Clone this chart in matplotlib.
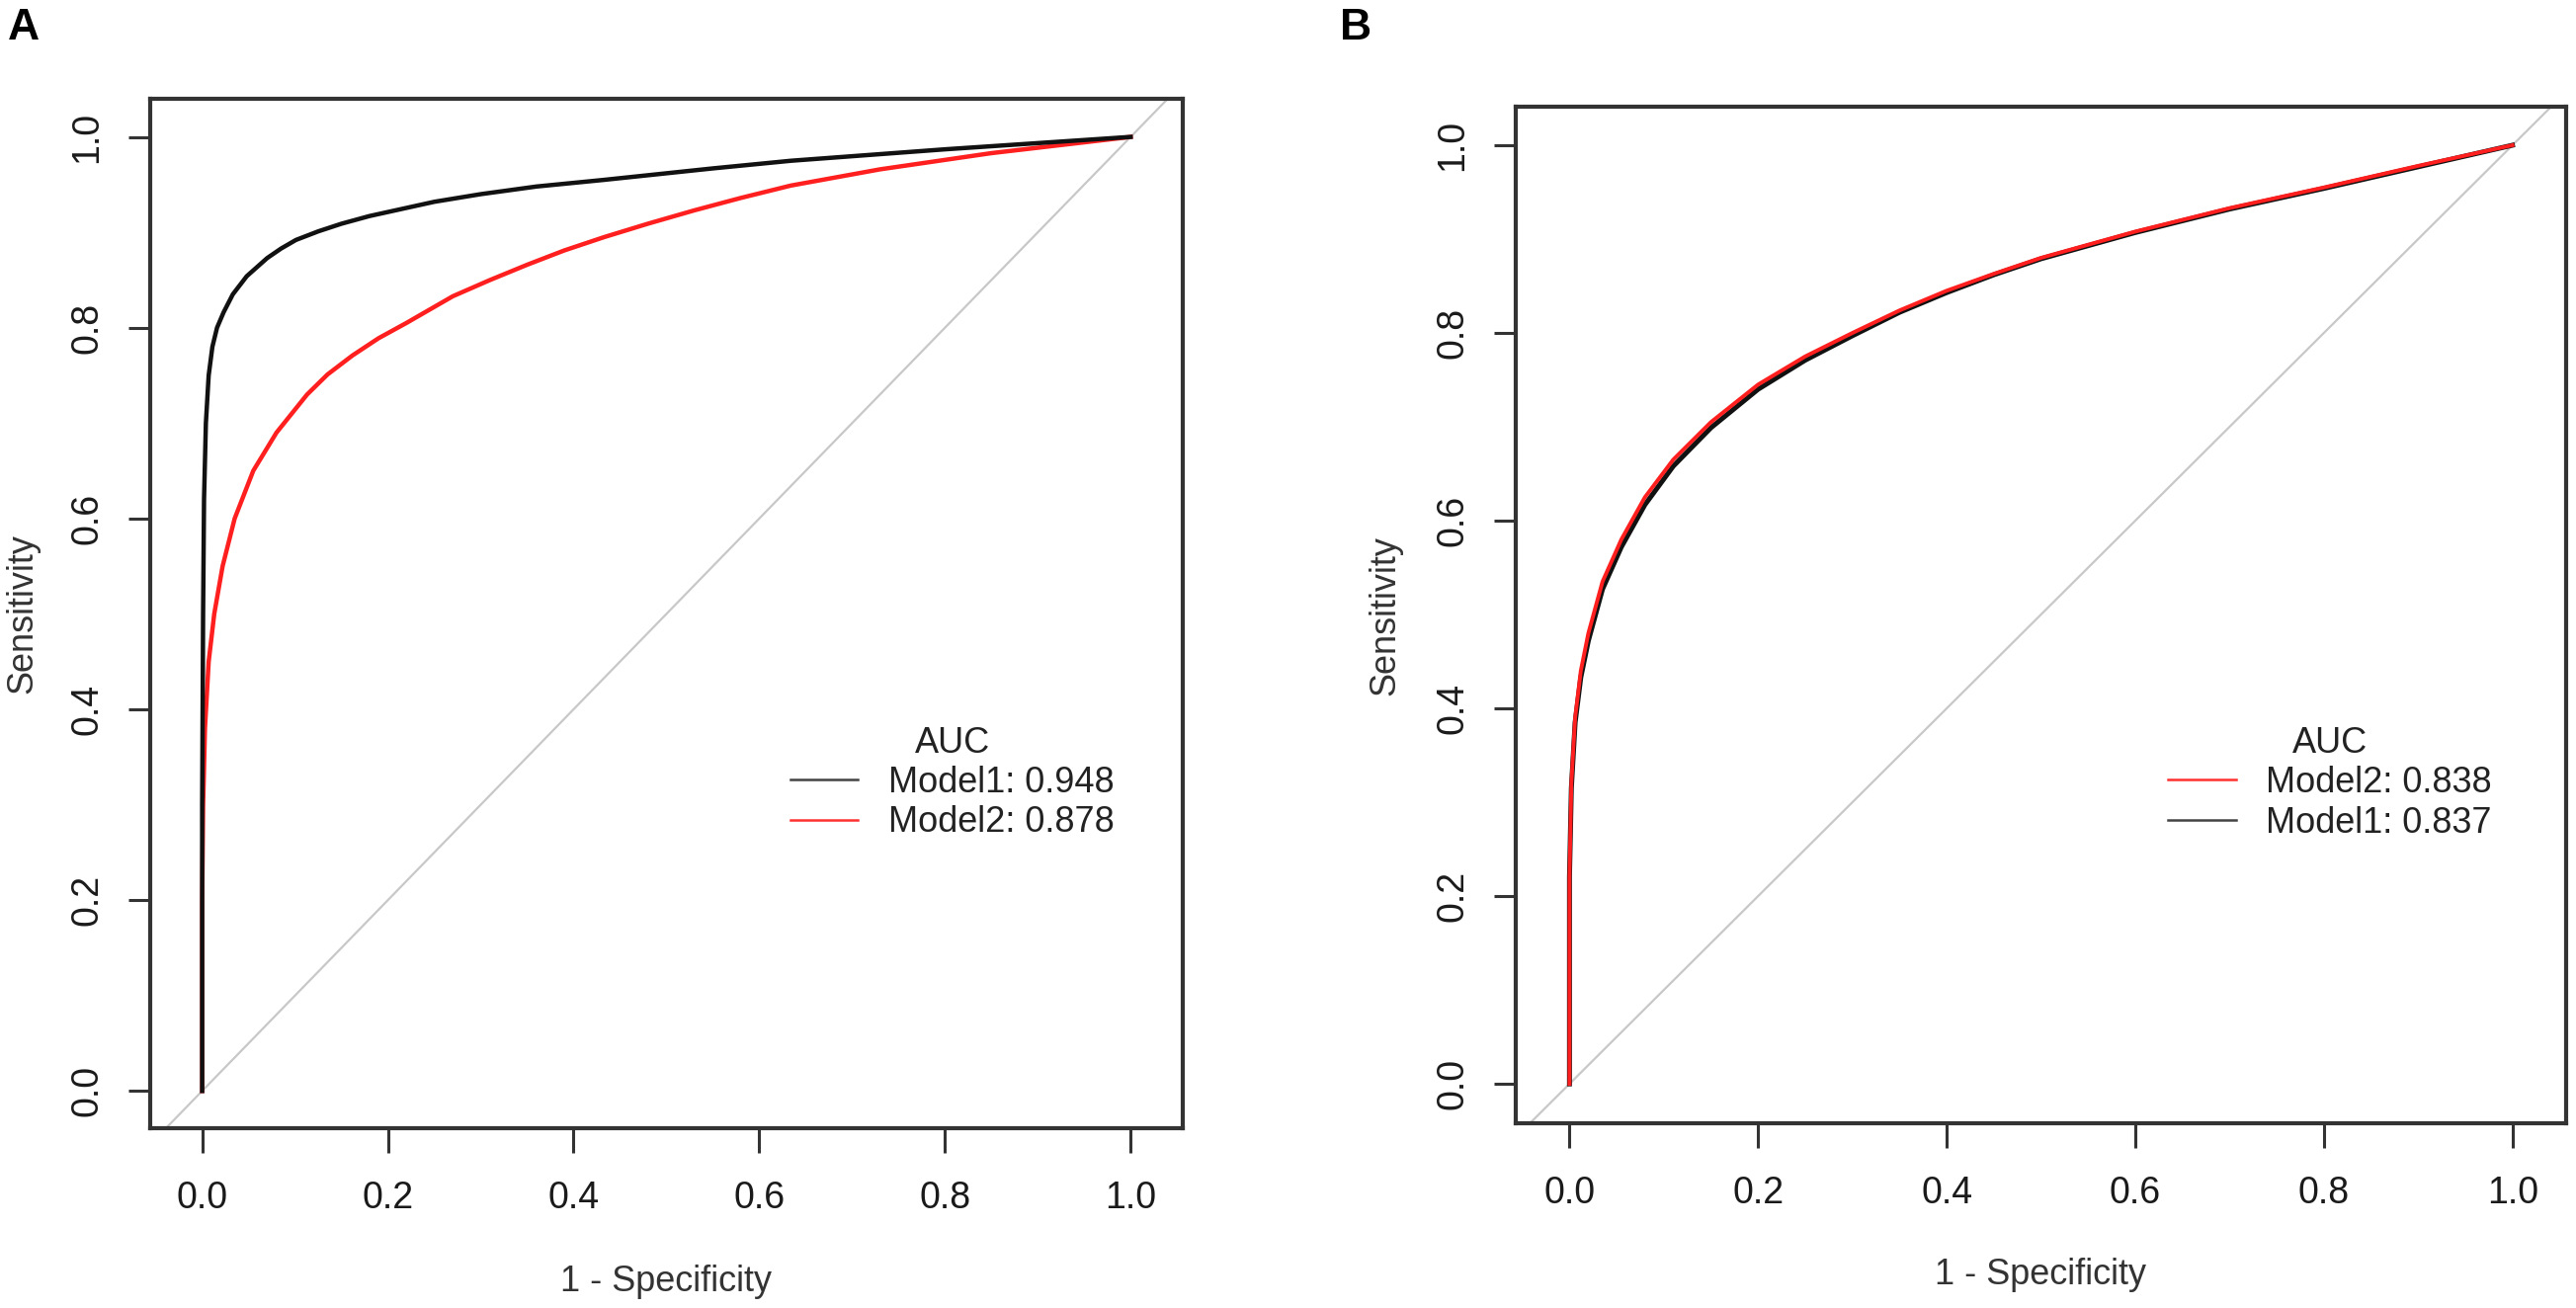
import numpy as np
import matplotlib
matplotlib.use("Agg")
import matplotlib.pyplot as plt

plt.rcParams['font.family'] = ['Liberation Sans', 'DejaVu Sans']

# panel A: ROC points (1 - specificity, sensitivity)
a_m1_fpr = [0, 0, 0.001, 0.002, 0.004, 0.007, 0.011, 0.016, 0.023, 0.033, 0.048, 0.07, 0.085, 0.101,
            0.125, 0.15, 0.18, 0.208, 0.25, 0.3, 0.36, 0.433, 0.55, 0.634, 0.8, 1.0]
a_m1_tpr = [0, 0.3, 0.5, 0.62, 0.7, 0.75, 0.78, 0.8, 0.816, 0.835, 0.854, 0.873, 0.883, 0.892,
            0.901, 0.909, 0.917, 0.923, 0.932, 0.94, 0.948, 0.955, 0.967, 0.975, 0.987, 1.0]
a_m2_fpr = [0, 0, 0.001, 0.003, 0.007, 0.013, 0.022, 0.035, 0.055, 0.08, 0.113, 0.135, 0.162, 0.19,
            0.22, 0.27, 0.31, 0.35, 0.39, 0.433, 0.48, 0.53, 0.58, 0.634, 0.73, 0.85, 1.0]
a_m2_tpr = [0, 0.2, 0.3, 0.38, 0.45, 0.5, 0.55, 0.6, 0.65, 0.69, 0.73, 0.751, 0.771, 0.789,
            0.805, 0.833, 0.85, 0.866, 0.881, 0.895, 0.909, 0.923, 0.936, 0.949, 0.966, 0.983, 1.0]

# panel B
b_m2_fpr = [0, 0, 0.002, 0.006, 0.012, 0.02, 0.035, 0.055, 0.08, 0.11, 0.15, 0.2, 0.25,
            0.3, 0.35, 0.4, 0.45, 0.5, 0.6, 0.7, 0.8, 0.9, 1.0]
b_m2_tpr = [0, 0.22, 0.32, 0.39, 0.44, 0.48, 0.535, 0.58, 0.625, 0.665, 0.705, 0.745, 0.775,
            0.80, 0.824, 0.845, 0.863, 0.88, 0.908, 0.933, 0.955, 0.978, 1.0]
b_m1_fpr = [0, 0, 0.002, 0.006, 0.012, 0.02, 0.035, 0.055, 0.08, 0.11, 0.15, 0.2, 0.25,
            0.3, 0.35, 0.4, 0.45, 0.5, 0.6, 0.7, 0.8, 0.9, 1.0]
b_m1_tpr = [0, 0.22, 0.315, 0.385, 0.433, 0.472, 0.527, 0.572, 0.617, 0.658, 0.699, 0.74, 0.771,
            0.797, 0.822, 0.843, 0.862, 0.879, 0.907, 0.932, 0.954, 0.977, 1.0]

a_labels = ["Model1: 0.948", "Model2: 0.878"]
b_labels = ["Model2: 0.838", "Model1: 0.837"]
ticks = [0.0, 0.2, 0.4, 0.6, 0.8, 1.0]
tick_text = ["0.0", "0.2", "0.4", "0.6", "0.8", "1.0"]

BLACK = "#111111"
RED = "#ff1f1f"
FRAME = "#333333"

fig = plt.figure(figsize=(26.07, 13.24), dpi=100)
axA = fig.add_axes([0.0583, 0.1375, 0.4008, 0.787])
axB = fig.add_axes([0.5884, 0.1412, 0.4078, 0.7772])


def style(ax, xlim, ylim):
    ax.set_xlim(*xlim)
    ax.set_ylim(*ylim)
    ax.axline((0, 0), (1, 1), color="#c8c8c8", lw=1.6, zorder=1)
    for s in ax.spines.values():
        s.set_linewidth(3)
        s.set_color(FRAME)
    ax.set_xticks(ticks)
    ax.set_xticklabels(tick_text, fontsize=27, color="#1a1a1a")
    ax.set_yticks(ticks)
    ax.set_yticklabels(tick_text, fontsize=27, color="#1a1a1a", rotation=90, va="center")
    ax.tick_params(axis="x", length=18, width=2.2, color=FRAME, pad=20)
    ax.tick_params(axis="y", length=16, width=2.2, color=FRAME, pad=17)
    ax.set_xlabel("1 - Specificity", fontsize=26, color="#333333", va="center")
    ax.set_ylabel("Sensitivity", fontsize=26, color="#333333", va="center")
    ax.xaxis.set_label_coords(0.5, -0.149)
    ax.yaxis.set_label_coords(-0.124, 0.5)


style(axA, (-0.056, 1.056), (-0.039, 1.040))
style(axB, (-0.057, 1.057), (-0.042, 1.041))

axA.plot(a_m2_fpr, a_m2_tpr, color=RED, lw=3.2, zorder=3, solid_joinstyle="round")
axA.plot(a_m1_fpr, a_m1_tpr, color=BLACK, lw=3.2, zorder=4, solid_joinstyle="round")
axB.plot(b_m1_fpr, b_m1_tpr, color=BLACK, lw=3.6, zorder=3, solid_joinstyle="round")
axB.plot(b_m2_fpr, b_m2_tpr, color=RED, lw=2.8, zorder=4, solid_joinstyle="round")

leg_kw = dict(loc="upper left", frameon=False, fontsize=26, title="AUC", title_fontsize=26,
              handlelength=1.9, handletextpad=0.85, labelspacing=0.15, borderpad=0,
              borderaxespad=0)
hA = [plt.Line2D([], [], color="#444444", lw=1.8), plt.Line2D([], [], color="#ff3030", lw=1.8)]
lgA = axA.legend(hA, a_labels, bbox_to_anchor=(0.62, 0.391), **leg_kw)
hB = [plt.Line2D([], [], color="#ff3030", lw=1.8), plt.Line2D([], [], color="#444444", lw=1.8)]
lgB = axB.legend(hB, b_labels, bbox_to_anchor=(0.621, 0.391), **leg_kw)
for lg in (lgA, lgB):
    for t in lg.get_texts():
        t.set_color("#222222")
    lg.get_title().set_color("#222222")

fig.text(0.003, 0.994, "A", fontsize=32, fontweight="bold", va="top", ha="left")
fig.text(0.520, 0.994, "B", fontsize=32, fontweight="bold", va="top", ha="left")

fig.savefig("out.png", dpi=100)
